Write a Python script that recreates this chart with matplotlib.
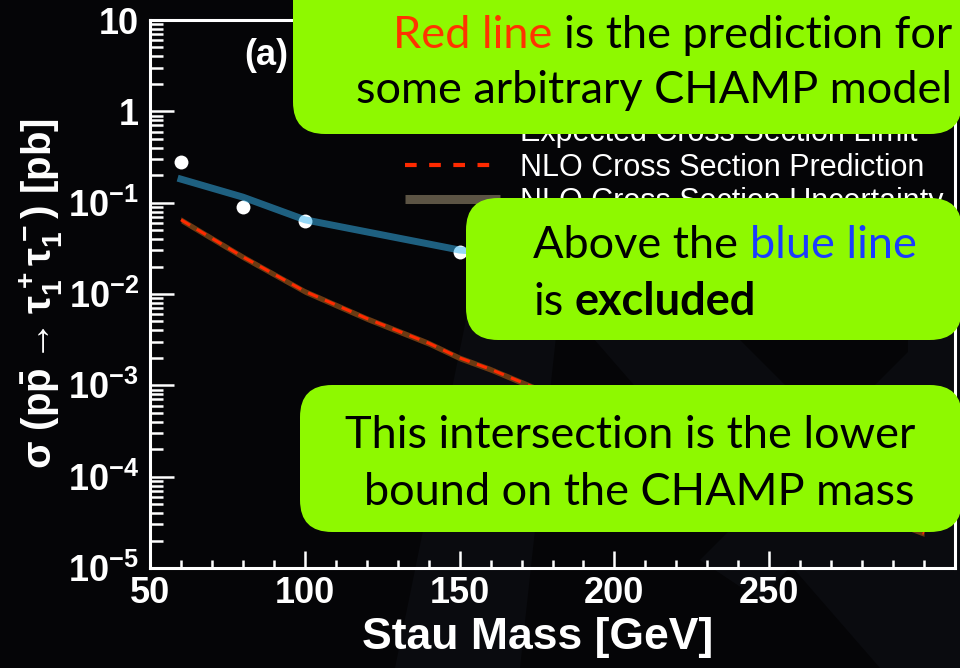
import numpy as np
import matplotlib.pyplot as plt
from matplotlib.patches import FancyBboxPatch, Polygon
from matplotlib.lines import Line2D
from matplotlib.transforms import IdentityTransform

plt.rcParams['font.family'] = ['Liberation Sans', 'DejaVu Sans']
plt.rcParams['font.weight'] = 'bold'
plt.rcParams['axes.labelweight'] = 'bold'
plt.rcParams['mathtext.fontset'] = 'custom'
plt.rcParams['mathtext.rm'] = 'Liberation Sans:bold'
plt.rcParams['mathtext.it'] = 'Liberation Sans:bold'
plt.rcParams['mathtext.bf'] = 'Liberation Sans:bold'

# stau masses [GeV]
mass_obs = [60, 80, 100, 150, 200, 250, 300]
obs_limit = [0.28, 0.090, 0.063, 0.0288, 0.021, 0.019, 0.017]
exp_limit = [0.181, 0.115, 0.065, 0.0303, 0.022, 0.019, 0.017]

# NLO cross section and its uncertainty band [pb]
mass_nlo = [60, 80, 100, 120, 140, 150, 160, 180, 200, 250, 300]
nlo_xsec = [0.065, 0.0255, 0.0107, 0.0054, 0.0029, 0.0020, 0.0015,
            0.00078, 0.00045, 0.000105, 0.000024]
nlo_low = [0.060, 0.0236, 0.0099, 0.0050, 0.00268, 0.00185, 0.00139,
           0.00072, 0.000415, 0.000097, 0.0000222]
nlo_high = [0.070, 0.0275, 0.0115, 0.0058, 0.00312, 0.00215, 0.00161,
            0.00084, 0.000485, 0.000113, 0.0000259]

y_ticks = [1e-5, 1e-4, 1e-3, 1e-2, 1e-1, 1, 10]
y_tick_labels = ['10$^{-5}$', '10$^{-4}$', '10$^{-3}$', '10$^{-2}$',
                 '10$^{-1}$', '1', '10']
x_ticks = [50, 100, 150, 200, 250]

W, H = 960, 668
fig = plt.figure(figsize=(W / 100, H / 100), dpi=100, facecolor='#050507')


def px(x, y):
    # image pixel (top-left origin) -> display coords
    return x, H - y


# faint keynote-style swooshes in the background
bg = '#0a0b0f'
for pts in [
    [(395, 668), (470, 300), (560, 300), (520, 668)],
    [(560, 300), (700, 300), (960, 560), (960, 668), (880, 668)],
    [(700, 560), (960, 300), (960, 380), (760, 600)],
    [(908, 330), (960, 330), (960, 668), (908, 668)],
]:
    fig.add_artist(Polygon([px(*p) for p in pts], closed=True, fc=bg,
                           ec='none', transform=IdentityTransform(), zorder=-5))

ax = fig.add_axes([150 / W, 1 - 568 / H, 805 / W, 548 / H])
ax.set_facecolor('none')

ax.fill_between(mass_nlo, nlo_low, nlo_high, color='#6b3a12', lw=0, zorder=2)
ax.plot(mass_nlo, nlo_xsec, color='#ff2a00', lw=2.2, ls=(0, (3.5, 2.5)), zorder=3)
ax.plot(mass_obs, obs_limit, 'o', color='white', ms=10, mec='none', zorder=4)
ax.plot(mass_obs, exp_limit, color='#36b5f0', alpha=0.52, lw=5, zorder=5)

ax.set_yscale('log')
ax.set_xlim(50, 310)
ax.set_ylim(1e-5, 10)
ax.set_yticks(y_ticks)
ax.set_yticklabels(y_tick_labels)
ax.set_xticks(x_ticks)
ax.set_xticks(np.arange(60, 310, 10), minor=True)
ax.yaxis.set_minor_formatter(plt.NullFormatter())

for s in ax.spines.values():
    s.set_color('white')
    s.set_linewidth(2.2)
ax.tick_params(which='both', direction='in', colors='white', width=1.8,
               top=False, right=False)
ax.tick_params(axis='y', which='major', length=17, labelsize=26, pad=8)
ax.tick_params(axis='y', which='minor', length=9)
ax.tick_params(axis='x', which='major', length=12, labelsize=26, pad=6)
ax.tick_params(axis='x', which='minor', length=6)

ax.set_xlabel('Stau Mass [GeV]', color='white', fontsize=32, fontweight='bold')
ax.xaxis.set_label_coords(0.481, -0.09)
ax.set_ylabel(r'$\sigma$ (p$\bar{\rm p}\rightarrow\tau_1^+\tau_1^-$) [pb]',
              color='white', fontsize=29, fontweight='bold', labelpad=2)

ax.text(0.145, 0.936, '(a)', transform=ax.transAxes, color='white',
        fontsize=26, fontweight='bold', ha='center', va='center')

handles = [
    Line2D([], [], ls='none', marker='o', color='white', ms=10, mec='none'),
    Line2D([], [], color='#36b5f0', alpha=0.52, lw=5),
    Line2D([], [], color='#ff2a00', lw=3, ls=(0, (2.8, 3))),
    Line2D([], [], color='#5c5444', lw=6.5, solid_capstyle='butt'),
]
labels = ['Observed Cross Section Limit', 'Expected Cross Section Limit',
          'NLO Cross Section Prediction', 'NLO Cross Section Uncertainty']
leg = ax.legend(handles, labels, loc='upper left',
                bbox_to_anchor=(0.317, 0.883), frameon=False, borderpad=0,
                borderaxespad=0, handlelength=3.1, handleheight=0.8,
                handletextpad=0.65, labelspacing=0.14,
                prop={'family': 'Liberation Sans', 'weight': 'normal', 'size': 22})
for t in leg.get_texts():
    t.set_color('white')

# callout boxes drawn on top of the plot
green = '#8ef900'
box_font = {'family': 'Lato', 'size': 32.5, 'weight': 'normal'}
for x0, y0, x1, y1 in [(293, -40, 962, 134), (466, 198, 962, 340),
                       (300, 385, 962, 532)]:
    fig.add_artist(FancyBboxPatch(
        (x0, H - y1), x1 - x0, y1 - y0,
        boxstyle='round,pad=0,rounding_size=32', fc=green, ec='none',
        transform=IdentityTransform(), zorder=20))

renderer = fig.canvas.get_renderer()


def text_width(s, **kw):
    t = fig.text(0, 0, s, **kw)
    w = t.get_window_extent(renderer).width
    t.remove()
    return w


def put(x, y, s, color='black', ha='left', **kw):
    fd = dict(box_font)
    fd.update(kw)
    fig.text(x, H - y, s, color=color, ha=ha, va='baseline',
             transform=IdentityTransform(), zorder=21, fontdict=fd)


# box 1, right aligned
line1 = 'Red line is the prediction for'
right = 952
w_full = text_width(line1, fontdict=box_font)
put(right - w_full, 48, 'Red line', color='#ff3300')
put(right, 48, 'is the prediction for', ha='right')
put(right, 103, 'some arbitrary CHAMP model', ha='right')

# box 2, left aligned
left = 533
w_full = text_width('Above the blue line', fontdict=box_font)
w_blue = text_width('blue line', fontdict=box_font)
put(left, 258, 'Above the')
put(left + w_full - w_blue, 258, 'blue line', color='#1a3cff')
w_is = text_width('is x', fontdict=box_font) - text_width('x', fontdict=box_font)
put(left, 315, 'is')
put(left + w_is, 315, 'excluded', weight='bold')

# box 3, right aligned
put(915, 448, 'This intersection is the lower', ha='right')
put(915, 505, 'bound on the CHAMP mass', ha='right')

fig.savefig('out.png', dpi=100, facecolor=fig.get_facecolor())
